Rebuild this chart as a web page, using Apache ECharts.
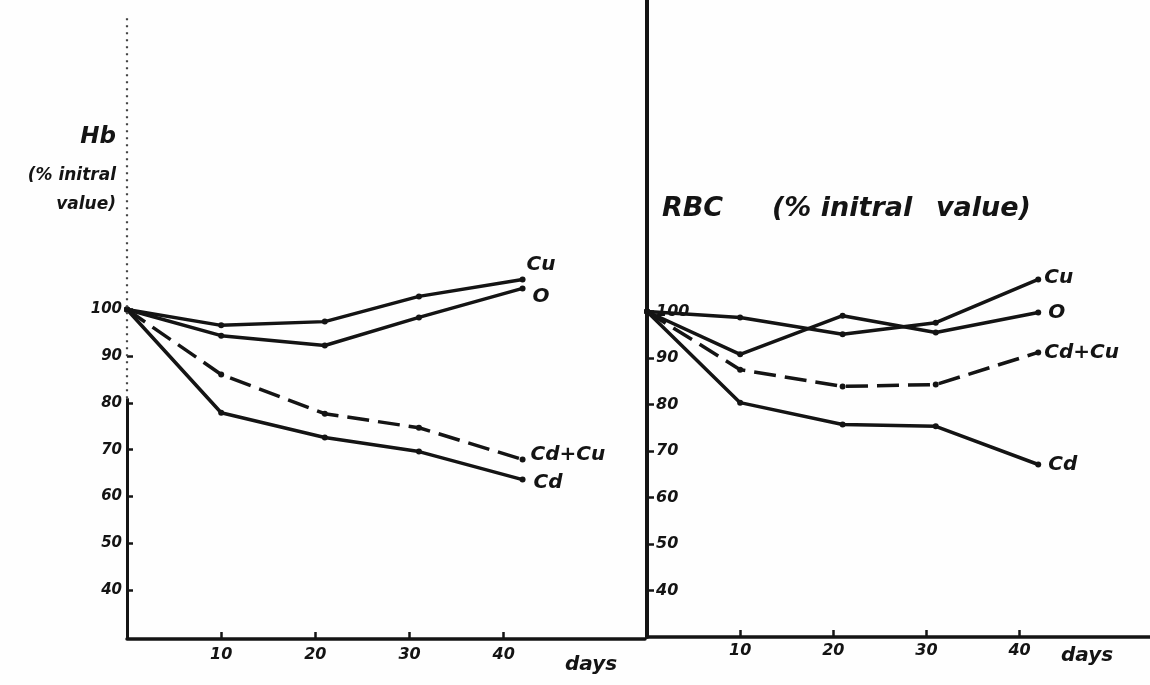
<!DOCTYPE html>
<html>
<head>
<meta charset="utf-8">
<script src="https://cdn.jsdelivr.net/npm/echarts@6/dist/echarts.min.js"></script>
<style>
html,body{margin:0;padding:0;background:#fefefe;}
#chart{width:1150px;height:685px;}
</style>
</head>
<body>
<div id="chart"></div>
<script>
// ---- data ----
const days = [0, 10, 21, 31, 42];
const seriesNames = ['Cu', 'O', 'Cd+Cu', 'Cd'];
const hbCu   = [100, 96.6, 97.4, 102.8, 106.4];
const hbO    = [100, 94.4, 92.3, 98.3, 104.5];
const hbCdCu = [100, 86.1, 77.7, 74.7, 67.9];
const hbCd   = [100, 77.9, 72.6, 69.6, 63.6];
const rbcCu   = [100, 98.7, 95.1, 97.6, 106.9];
const rbcO    = [100, 90.8, 99.1, 95.5, 99.8];
const rbcCdCu = [100, 87.5, 83.9, 84.3, 91.2];
const rbcCd   = [100, 80.4, 75.7, 75.3, 67.1];
const yTickValues = [40, 50, 60, 70, 80, 90, 100];
const xTickValues = [10, 20, 30, 40];

const FONT = 'DejaVu Sans';
const INK = '#141414';
const hand = (size) => ({ fontFamily: FONT, fontStyle: 'italic', fontWeight: 'bold', fontSize: size, color: INK });

function pts(vals) { return days.map((d, i) => [d, vals[i]]); }

function mkSeries(name, vals, gi, dashed, offset) {
  return {
    type: 'line', name: name, xAxisIndex: gi, yAxisIndex: gi,
    data: pts(vals),
    symbol: 'circle', symbolSize: 6,
    itemStyle: { color: INK },
    lineStyle: { color: INK, width: 3.5, type: dashed ? [22, 9] : 'solid' },
    endLabel: { show: true, formatter: name, offset: offset, distance: 4, ...hand(20) },
    animation: false, z: 3
  };
}

const leftGroups = [hbCu, hbO, hbCdCu, hbCd];
const rightGroups = [rbcCu, rbcO, rbcCdCu, rbcCd];
const leftOffsets = [[0, -15], [6, 8], [4, -5], [7, 3]];
const rightOffsets = [[2, -2], [6, 0], [2, 0], [6, 0]];

const series = [];
seriesNames.forEach((n, i) => series.push(mkSeries(n, leftGroups[i], 0, n === 'Cd+Cu', leftOffsets[i])));
seriesNames.forEach((n, i) => series.push(mkSeries(n, rightGroups[i], 1, n === 'Cd+Cu', rightOffsets[i])));

// left y-axis line: solid low part, faint dotted upper part (as scanned)
const LEFT_Y_MIN = 29.5, LEFT_Y_MAX = 163, LEFT_SOLID_TOP = 81;
series.push({
  type: 'line', xAxisIndex: 0, yAxisIndex: 0, data: [], silent: true, animation: false,
  markLine: {
    symbol: 'none', silent: true, animation: false, label: { show: false },
    data: [
      [{ coord: [0, LEFT_Y_MIN], lineStyle: { type: 'solid', width: 3, color: INK } },
       { coord: [0, LEFT_SOLID_TOP] }],
      [{ coord: [0, LEFT_SOLID_TOP], lineStyle: { type: [2, 5], width: 2.2, color: '#444' } },
       { coord: [0, LEFT_Y_MAX] }]
    ]
  }
});

const option = {
  backgroundColor: '#fefefe',
  animation: false,
  grid: [
    { left: 127, top: 15, width: 518, height: 624 },
    { left: 647, top: 0, width: 503, height: 637 }
  ],
  xAxis: [
    {
      type: 'value', gridIndex: 0, min: 0, max: 55,
      axisLine: { show: true, onZero: false, lineStyle: { color: INK, width: 3.5 } },
      axisTick: { show: true, inside: true, length: 7, customValues: xTickValues, lineStyle: { color: INK, width: 2.5 } },
      axisLabel: { show: true, customValues: xTickValues, margin: 8, ...hand(16) },
      splitLine: { show: false }
    },
    {
      type: 'value', gridIndex: 1, min: 0, max: 54,
      axisLine: { show: true, onZero: false, lineStyle: { color: INK, width: 3.5 } },
      axisTick: { show: true, inside: true, length: 7, customValues: xTickValues, lineStyle: { color: INK, width: 2.5 } },
      axisLabel: { show: true, customValues: xTickValues, margin: 6, ...hand(16) },
      splitLine: { show: false }
    }
  ],
  yAxis: [
    {
      type: 'value', gridIndex: 0, min: LEFT_Y_MIN, max: LEFT_Y_MAX,
      axisLine: { show: false },
      axisTick: { show: true, inside: true, length: 6, customValues: yTickValues, lineStyle: { color: INK, width: 2.5 } },
      axisLabel: { show: true, customValues: yTickValues, margin: 5, ...hand(15) },
      splitLine: { show: false }
    },
    {
      type: 'value', gridIndex: 1, min: 30, max: 167,
      axisLine: { show: true, onZero: false, lineStyle: { color: INK, width: 4 } },
      axisTick: { show: true, inside: true, length: 7, customValues: yTickValues, lineStyle: { color: INK, width: 2.5 } },
      axisLabel: { show: true, inside: true, customValues: yTickValues, margin: 9, ...hand(16) },
      splitLine: { show: false }
    }
  ],
  graphic: [
    { type: 'text', right: 1150 - 116, top: 126, style: { text: 'Hb', align: 'right', ...hand(23), fill: INK } },
    { type: 'text', right: 1150 - 116, top: 167, style: { text: '(% initral', align: 'right', ...hand(17), fill: INK } },
    { type: 'text', right: 1150 - 116, top: 196, style: { text: 'value)', align: 'right', ...hand(17), fill: INK } },
    { type: 'text', left: 662, top: 195, style: { text: 'RBC', ...hand(27), fill: INK } },
    { type: 'text', left: 772, top: 195, style: { text: '(% initral', ...hand(27), fill: INK } },
    { type: 'text', left: 936, top: 195, style: { text: 'value)', ...hand(27), fill: INK } },
    { type: 'text', left: 565, top: 655, style: { text: 'days', ...hand(20), fill: INK } },
    { type: 'text', left: 1061, top: 646, style: { text: 'days', ...hand(20), fill: INK } }
  ],
  series: series
};

const chart = echarts.init(document.getElementById('chart'), null, { renderer: 'canvas' });
chart.setOption(option);
</script>
</body>
</html>
